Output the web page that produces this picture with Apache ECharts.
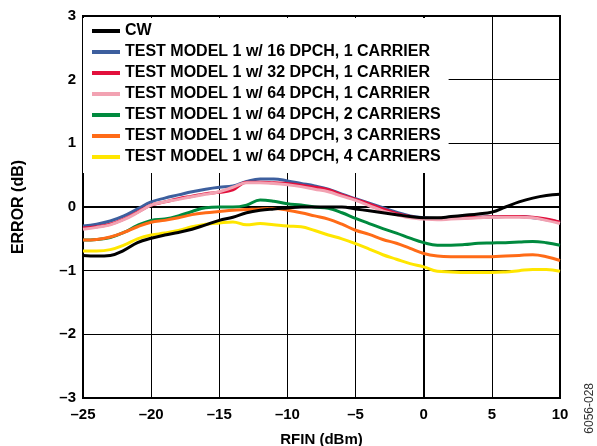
<!DOCTYPE html>
<html>
<head>
<meta charset="utf-8">
<script src="https://cdn.jsdelivr.net/npm/echarts@6/dist/echarts.min.js"></script>
<style>html,body{margin:0;padding:0;background:#fff;}#c{width:597px;height:446px;}</style>
</head>
<body>
<div id="c"></div>
<script>
const rfin = [-25,-24,-23,-22,-21,-20,-19,-18,-17,-16,-15,-14,-13,-12,-11,-10,-9,-8,-7,-6,-5,-4,-3,-2,-1,0,1,2,3,4,5,6,7,8,9,10];
const cw      = [-0.76,-0.77,-0.76,-0.68,-0.56,-0.49,-0.44,-0.40,-0.35,-0.28,-0.21,-0.16,-0.09,-0.05,-0.03,-0.015,0.0,0.0,0.0,0.0,-0.03,-0.06,-0.09,-0.12,-0.15,-0.17,-0.17,-0.15,-0.13,-0.11,-0.08,0.0,0.08,0.14,0.18,0.20];
const dpch16  = [-0.30,-0.27,-0.22,-0.14,-0.03,0.08,0.14,0.19,0.24,0.28,0.31,0.33,0.40,0.44,0.44,0.41,0.37,0.33,0.28,0.20,0.13,0.06,-0.01,-0.08,-0.14,-0.17,-0.18,-0.18,-0.17,-0.16,-0.155,-0.15,-0.15,-0.17,-0.20,-0.24];
const dpch32  = [-0.33,-0.31,-0.27,-0.19,-0.08,0.03,0.08,0.13,0.17,0.21,0.23,0.27,0.39,0.39,0.38,0.37,0.34,0.31,0.27,0.19,0.12,0.05,-0.03,-0.10,-0.15,-0.18,-0.18,-0.17,-0.16,-0.16,-0.155,-0.15,-0.15,-0.16,-0.19,-0.24];
const dpch64  = [-0.35,-0.32,-0.28,-0.20,-0.09,0.03,0.08,0.12,0.16,0.20,0.24,0.31,0.38,0.38,0.37,0.35,0.32,0.28,0.24,0.17,0.105,0.02,-0.06,-0.12,-0.17,-0.19,-0.20,-0.19,-0.18,-0.17,-0.16,-0.16,-0.16,-0.17,-0.21,-0.26];
const car2    = [-0.52,-0.51,-0.48,-0.40,-0.29,-0.21,-0.19,-0.14,-0.07,-0.01,0.0,0.0,0.03,0.11,0.09,0.05,0.03,0.0,-0.02,-0.09,-0.18,-0.26,-0.34,-0.41,-0.49,-0.56,-0.60,-0.60,-0.59,-0.57,-0.565,-0.56,-0.55,-0.54,-0.56,-0.60];
const car3    = [-0.52,-0.51,-0.47,-0.40,-0.31,-0.24,-0.21,-0.17,-0.12,-0.09,-0.07,-0.05,-0.04,-0.03,-0.025,-0.05,-0.09,-0.14,-0.19,-0.27,-0.365,-0.43,-0.51,-0.57,-0.65,-0.73,-0.77,-0.78,-0.78,-0.78,-0.78,-0.77,-0.76,-0.75,-0.78,-0.84];
const car4    = [-0.69,-0.69,-0.67,-0.60,-0.50,-0.44,-0.41,-0.37,-0.31,-0.27,-0.25,-0.235,-0.28,-0.26,-0.28,-0.30,-0.31,-0.37,-0.44,-0.50,-0.575,-0.66,-0.75,-0.82,-0.89,-0.94,-1.01,-1.02,-1.03,-1.03,-1.03,-1.02,-1.00,-0.98,-0.98,-1.01];

const names = ['CW','TEST MODEL 1 w/ 16 DPCH, 1 CARRIER','TEST MODEL 1 w/ 32 DPCH, 1 CARRIER','TEST MODEL 1 w/ 64 DPCH, 1 CARRIER','TEST MODEL 1 w/ 64 DPCH, 2 CARRIERS','TEST MODEL 1 w/ 64 DPCH, 3 CARRIERS','TEST MODEL 1 w/ 64 DPCH, 4 CARRIERS'];
const colors = ['#000000','#3D5F9E','#E2103C','#F2A2B2','#008A3E','#FF6B17','#FFE600'];
const values = [cw,dpch16,dpch32,dpch64,car2,car3,car4];
const drawOrder = [1,2,3,4,5,6,0];

const pair = v => rfin.map((x,i)=>[x,v[i]]);
const fmt = v => String(v).replace('-','\u2013');
const FONT = '"Liberation Sans", Arial, sans-serif';

const chart = echarts.init(document.getElementById('c'), null, {renderer:'canvas'});
chart.setOption({
  animation:false,
  backgroundColor:'#fff',
  grid:{left:83,right:37,top:16,bottom:48,containLabel:false,outerBoundsMode:'none',show:true,borderColor:'#000',borderWidth:2,backgroundColor:'transparent'},
  xAxis:{type:'value',min:-25,max:10,interval:5,
    name:'RFIN (dBm)',nameLocation:'middle',nameGap:34,
    nameTextStyle:{fontFamily:FONT,fontWeight:'bold',fontSize:15,color:'#000'},
    axisLine:{show:true,lineStyle:{color:'#000',width:2}},axisTick:{show:false},
    axisLabel:{formatter:fmt,fontFamily:FONT,fontWeight:'bold',fontSize:15,color:'#000',margin:9},
    splitLine:{show:true,lineStyle:{color:'#000',width:1}}},
  yAxis:{type:'value',min:-3,max:3,interval:1,
    name:'ERROR (dB)',nameLocation:'middle',nameGap:56,
    nameTextStyle:{fontFamily:FONT,fontWeight:'bold',fontSize:16,color:'#000'},
    axisLine:{show:true,lineStyle:{color:'#000',width:2}},axisTick:{show:false},
    axisLabel:{formatter:fmt,fontFamily:FONT,fontWeight:'bold',fontSize:15,color:'#000',margin:7},
    splitLine:{show:true,lineStyle:{color:'#000',width:1}}},
  legend:{orient:'vertical',left:83,top:18,padding:[5,8,8,9],itemGap:5,
    backgroundColor:'#fff',icon:'rect',itemWidth:28,itemHeight:4,
    data:names,
    textStyle:{fontFamily:FONT,fontWeight:'bold',fontSize:16,color:'#000',lineHeight:16}},
  series: drawOrder.map((i,k)=>({
    name:names[i],type:'line',data:pair(values[i]),smooth:0.4,showSymbol:false,symbol:'none',
    color:colors[i],lineStyle:{color:colors[i],width:3},z:2,zlevel:0
  })),
  graphic:[{type:'text',left:584,top:383,rotation:Math.PI/2,
    style:{text:'6056-028',fontFamily:FONT,fontSize:12,fill:'#333'}}]
});
</script>
</body>
</html>
